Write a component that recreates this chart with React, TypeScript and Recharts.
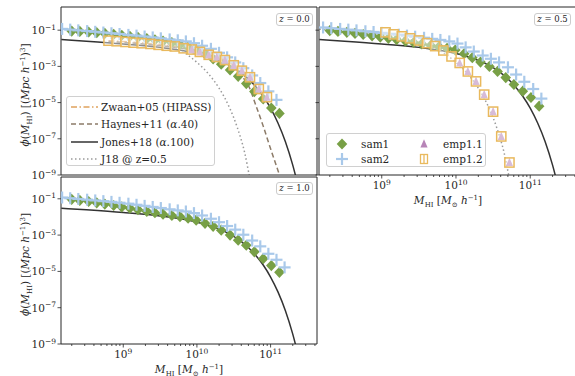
import React from 'react';
import { ComposedChart, Line, Scatter, XAxis, YAxis } from 'recharts';

// all values are log10: mass in M_sun/h, phi in (Mpc/h)^-3 dex^-1

// sam1 (same mass bins in every panel)
const sam1Mass = [8.30, 8.41, 8.53, 8.64, 8.75, 8.87, 8.98, 9.09, 9.20, 9.32, 9.43, 9.54, 9.66, 9.77, 9.88, 9.99, 10.11, 10.22, 10.33, 10.45, 10.56, 10.67, 10.78, 10.90, 11.01, 11.12];
const sam1Z00 = [-1.05, -1.07, -1.10, -1.14, -1.18, -1.23, -1.28, -1.34, -1.40, -1.47, -1.54, -1.61, -1.69, -1.80, -1.93, -2.08, -2.30, -2.58, -2.88, -3.20, -3.55, -3.95, -4.39, -4.80, -5.30, -5.60];
const sam1Z05 = [-1.02, -1.07, -1.12, -1.18, -1.24, -1.31, -1.38, -1.45, -1.52, -1.60, -1.68, -1.76, -1.84, -1.92, -2.00, -2.10, -2.30, -2.52, -2.76, -3.00, -3.28, -3.62, -4.00, -4.37, -4.72, -5.20];
const sam1Z10 = [-1.03, -1.09, -1.15, -1.22, -1.29, -1.37, -1.45, -1.52, -1.60, -1.69, -1.77, -1.85, -1.92, -1.98, -2.07, -2.18, -2.35, -2.52, -2.73, -3.00, -3.28, -3.56, -3.92, -4.30, -4.68, -5.05];

// sam2
const sam2MassZ00 = [8.17, 8.28, 8.39, 8.51, 8.62, 8.73, 8.84, 8.95, 9.07, 9.18, 9.29, 9.40, 9.51, 9.63, 9.74, 9.85, 9.96, 10.07, 10.19, 10.30, 10.41, 10.52, 10.63, 10.75, 10.86, 10.97, 11.08];
const sam2Z00 = [-0.93, -0.97, -1.01, -1.05, -1.09, -1.13, -1.17, -1.21, -1.26, -1.30, -1.35, -1.40, -1.45, -1.51, -1.56, -1.62, -1.72, -1.86, -2.03, -2.25, -2.50, -2.78, -3.10, -3.50, -3.92, -4.38, -4.85];
const sam2MassZ05 = [8.21, 8.32, 8.44, 8.55, 8.66, 8.78, 8.89, 9.00, 9.11, 9.23, 9.34, 9.45, 9.57, 9.68, 9.79, 9.91, 10.02, 10.13, 10.24, 10.36, 10.47, 10.58, 10.70, 10.81, 10.92, 11.04, 11.15];
const sam2Z05 = [-0.85, -0.89, -0.93, -0.97, -1.01, -1.06, -1.10, -1.15, -1.20, -1.25, -1.30, -1.36, -1.42, -1.48, -1.54, -1.62, -1.74, -1.95, -2.18, -2.40, -2.58, -2.78, -3.05, -3.45, -3.85, -4.25, -4.78];
const sam2MassZ10 = [8.17, 8.28, 8.39, 8.51, 8.62, 8.73, 8.84, 8.95, 9.07, 9.18, 9.29, 9.40, 9.51, 9.63, 9.74, 9.85, 9.96, 10.07, 10.19, 10.30, 10.41, 10.52, 10.63, 10.75, 10.86, 10.97, 11.08, 11.19];
const sam2Z10 = [-0.93, -0.97, -1.01, -1.05, -1.09, -1.13, -1.17, -1.22, -1.27, -1.33, -1.39, -1.45, -1.51, -1.58, -1.64, -1.70, -1.79, -1.92, -2.10, -2.29, -2.50, -2.70, -2.98, -3.30, -3.62, -4.03, -4.36, -4.78];

// emp1.2 (squares) and emp1.1 (triangles)
const empMassZ00 = [8.80, 8.91, 9.03, 9.14, 9.25, 9.37, 9.48, 9.59, 9.70, 9.82, 9.93, 10.04, 10.16, 10.27, 10.38, 10.50, 10.61, 10.72, 10.84, 10.95];
const emp12Z00 = [-1.58, -1.61, -1.65, -1.69, -1.72, -1.76, -1.81, -1.86, -1.90, -2.00, -2.07, -2.20, -2.36, -2.48, -2.65, -2.94, -3.24, -3.60, -4.25, -4.70];
const emp11MassZ00 = [9.93, 10.04, 10.16, 10.27, 10.38, 10.50, 10.61, 10.72, 10.84, 10.95];
const emp11Z00 = [-2.07, -2.20, -2.36, -2.48, -2.65, -2.94, -3.24, -3.60, -4.25, -4.70];
const empMassZ05 = [9.05, 9.16, 9.27, 9.38, 9.50, 9.61, 9.72, 9.83, 9.94, 10.05, 10.16, 10.27, 10.38, 10.50, 10.61, 10.72];
const emp12Z05 = [-1.12, -1.23, -1.34, -1.45, -1.57, -1.72, -1.88, -2.12, -2.45, -2.81, -3.28, -3.83, -4.56, -5.50, -6.87, -8.31];
const emp11MassZ05 = [10.05, 10.16, 10.27, 10.38, 10.50, 10.61, 10.72];
const emp11Z05 = [-2.81, -3.28, -3.83, -4.56, -5.50, -6.87, -8.31];

// observed mass functions
const jonesMass = [8.16, 8.5, 9.0, 9.5, 9.8, 10.0, 10.2, 10.4, 10.6, 10.8, 10.9, 11.0, 11.1, 11.2, 11.3, 11.4];
const jonesPhi = [-1.52, -1.61, -1.76, -1.95, -2.12, -2.29, -2.52, -2.85, -3.35, -4.12, -4.65, -5.31, -6.13, -7.15, -8.44, -10.05];
const j18Mass = [8.16, 8.5, 9.0, 9.3, 9.5, 9.7, 9.85, 10.0, 10.15, 10.3, 10.45, 10.55, 10.65, 10.72, 10.78];
const j18Phi = [-0.94, -1.04, -1.25, -1.45, -1.65, -1.95, -2.30, -2.78, -3.38, -4.20, -5.35, -6.40, -7.80, -9.2, -10.2];
const haynesMass = [8.8, 9.2, 9.6, 9.9, 10.1, 10.3, 10.5, 10.6, 10.7, 10.8, 10.9, 11.0, 11.1, 11.2];
const haynesPhi = [-1.62, -1.74, -1.90, -2.08, -2.28, -2.58, -3.08, -3.50, -4.06, -5.15, -6.30, -7.55, -8.75, -10.0];
const zwaanMass = [8.8, 9.2, 9.6, 9.9, 10.1, 10.3, 10.5, 10.7, 10.84];
const zwaanPhi = [-1.58, -1.69, -1.84, -2.03, -2.25, -2.50, -2.94, -3.55, -4.25];

const yTicks = [-9, -7, -5, -3, -1];

const FONT = '"DejaVu Serif", serif';
const INK = '#262626';
const C = {
  sam1: '#78a046',
  sam2: '#a9c9ea',
  emp11: '#b784b7',
  emp12: '#e9b95d',
  jones: '#333333',
  haynes: '#8c7b68',
  zwaan: '#e0a35e',
  j18: '#9a9a9a',
};

const X_DOMAIN: [number, number] = [8.155, 11.63];
const H = 376;

const xTicks: number[] = [];
for (let n = 8; n <= 11; n++) {
  for (let k = 1; k <= 9; k++) {
    const t = n + Math.log10(k);
    if (t > X_DOMAIN[0] && t < X_DOMAIN[1]) xTicks.push(Number(t.toFixed(4)));
  }
}

const pts = (xs: number[], ys: number[]) => xs.map((x, i) => ({ x, y: ys[i] }));
const expo = (n: number) => String(n).replace('-', '\u2212');

// markers
const diamond = (cx: number, cy: number) => (
  <polygon points={`${cx},${cy - 5.6} ${cx + 5.3},${cy} ${cx},${cy + 5.6} ${cx - 5.3},${cy}`} fill={C.sam1} />
);
const plus = (cx: number, cy: number) => (
  <g stroke={C.sam2} strokeWidth={2.2}>
    <line x1={cx - 6} x2={cx + 6} y1={cy} y2={cy} />
    <line x1={cx} x2={cx} y1={cy - 6} y2={cy + 6} />
  </g>
);
const triangle = (cx: number, cy: number) => (
  <polygon points={`${cx},${cy - 4.8} ${cx + 3.6},${cy + 3.6} ${cx - 3.6},${cy + 3.6}`} fill={C.emp11} />
);
const square = (cx: number, cy: number) => (
  <rect x={cx - 4.6} y={cy - 4.6} width={9.2} height={9.2} fill="rgba(255,255,255,0.45)" stroke={C.emp12} strokeWidth={1.5} />
);

const lineEl = (key: string, xs: number[], ys: number[], stroke: string, dash?: string) => (
  <Line key={key} data={pts(xs, ys)} dataKey="y" type="monotone" stroke={stroke} strokeWidth={1.5}
    strokeDasharray={dash} dot={false} activeDot={false} isAnimationActive={false} />
);
const scatterEl = (key: string, xs: number[], ys: number[], draw: (cx: number, cy: number) => React.ReactElement) => (
  <Scatter key={key} data={pts(xs, ys)} dataKey="y" isAnimationActive={false}
    shape={(p: any) => (p.cx == null ? <g /> : draw(p.cx, p.cy))} />
);

function XTick(props: any) {
  const { x, y, payload, showLabel } = props;
  const v = payload.value;
  const major = Math.abs(v - Math.round(v)) < 1e-3;
  return (
    <g>
      <line x1={x} x2={x} y1={y} y2={y + (major ? 3.5 : 2)} stroke={INK} strokeWidth={0.8} />
      {major && showLabel && (
        <text x={x} y={y + 14} textAnchor="middle" fontFamily={FONT} fontSize={10.5} fill={INK}>
          10<tspan dy={-4.5} fontSize={7.5}>{expo(Math.round(v))}</tspan>
        </text>
      )}
    </g>
  );
}

function YTick(props: any) {
  const { x, y, payload, showLabel } = props;
  return (
    <g>
      <line x1={x - 3.5} x2={x} y1={y} y2={y} stroke={INK} strokeWidth={0.8} />
      {showLabel && (
        <text x={x - 5} y={y + 4} textAnchor="end" fontFamily={FONT} fontSize={10.5} fill={INK}>
          10<tspan dy={-4.5} fontSize={7.5}>{expo(payload.value)}</tspan>
        </text>
      )}
    </g>
  );
}

function YTitle(props: any) {
  const vb = props.viewBox || {};
  const cx = vb.x + vb.width - 32;
  const cy = vb.y + vb.height / 2 + 4;
  return (
    <text x={cx} y={cy} transform={`rotate(-90 ${cx} ${cy})`} textAnchor="middle" fontFamily={FONT} fontSize={10.5} fill={INK}>
      <tspan fontStyle="italic">ϕ</tspan>(<tspan fontStyle="italic">M</tspan>
      <tspan dy={2.5} fontSize={7}>HI</tspan>
      <tspan dy={-2.5}>) [(</tspan>
      <tspan fontStyle="italic">Mpc h</tspan>
      <tspan dy={-4} fontSize={7}>−1</tspan>
      <tspan dy={4}>)</tspan>
      <tspan dy={-4} fontSize={7}>3</tspan>
      <tspan dy={4}>]</tspan>
    </text>
  );
}

function XTitle(props: any) {
  const vb = props.viewBox || {};
  const cx = vb.x + vb.width / 2;
  const cy = vb.y + 29;
  return (
    <text x={cx} y={cy} textAnchor="middle" fontFamily={FONT} fontSize={10.5} fill={INK}>
      <tspan fontStyle="italic">M</tspan>
      <tspan dy={2.5} fontSize={7}>HI</tspan>
      <tspan dy={-2.5}> [</tspan>
      <tspan fontStyle="italic">M</tspan>
      <tspan dy={2.5} fontSize={7}>⊙</tspan>
      <tspan dy={-2.5} fontStyle="italic"> h</tspan>
      <tspan dy={-4} fontSize={7}>−1</tspan>
      <tspan dy={4}>]</tspan>
    </text>
  );
}

interface PanelProps {
  left: number;
  top: number;
  width: number;
  height: number;
  chartWidth: number;
  yDomain: [number, number];
  xTickLabels: boolean | null;
  yTickLabels: boolean;
  yTitle: boolean;
  children: React.ReactNode;
}

// every axis takes 1px so recharts still draws it; margins are reduced by that pixel
function Panel({ left, top, width, height, chartWidth, yDomain, xTickLabels, yTickLabels, yTitle, children }: PanelProps) {
  return (
    <div style={{ position: 'absolute', left: 0, top: 0 }}>
      <ComposedChart width={chartWidth} height={H}
        margin={{ left: left - 1, top: top - 1, right: chartWidth - left - width - 1, bottom: H - top - height - 1 }}>
        <XAxis dataKey="x" type="number" domain={X_DOMAIN} allowDataOverflow ticks={xTicks} interval={0}
          height={1} tickSize={0} tickMargin={0} tickLine={false} axisLine={{ stroke: INK }}
          tick={xTickLabels === null ? false : (p: any) => <XTick {...p} showLabel={xTickLabels} />}
          label={xTickLabels ? (p: any) => <XTitle {...p} /> : undefined} />
        <XAxis xAxisId="top" orientation="top" type="number" domain={X_DOMAIN} allowDataOverflow
          height={1} tick={false} tickLine={false} axisLine={{ stroke: INK }} />
        <YAxis type="number" domain={yDomain} allowDataOverflow ticks={yTicks} interval={0}
          width={1} tickSize={0} tickMargin={0} tickLine={false} axisLine={{ stroke: INK }}
          tick={(p: any) => <YTick {...p} showLabel={yTickLabels} />}
          label={yTitle ? (p: any) => <YTitle {...p} /> : undefined} />
        <YAxis yAxisId="right" orientation="right" type="number" domain={yDomain} allowDataOverflow
          width={1} tick={false} tickLine={false} axisLine={{ stroke: INK }} />
        {children}
      </ComposedChart>
    </div>
  );
}

function ZBox({ left, top, z }: { left: number; top: number; z: string }) {
  return (
    <div style={{
      position: 'absolute', left, top, width: 37, height: 13, boxSizing: 'border-box',
      border: '1px solid #cccccc', borderRadius: 3, background: '#fff',
      fontFamily: FONT, fontSize: 8.5, lineHeight: '11px', textAlign: 'center', color: INK,
    }}>
      <i>z</i> = {z}
    </div>
  );
}

const lineSample = (stroke: string, dash?: string) => (
  <svg width={34} height={14} style={{ display: 'block' }}>
    <line x1={4} x2={31} y1={7} y2={7} stroke={stroke} strokeWidth={1.5} strokeDasharray={dash} />
  </svg>
);
const markerSample = (draw: (cx: number, cy: number) => React.ReactElement) => (
  <svg width={20} height={14} style={{ display: 'block', overflow: 'visible' }}>{draw(10, 7)}</svg>
);

const legendBox: React.CSSProperties = {
  position: 'absolute', boxSizing: 'border-box', border: '1px solid #d0d0d0', borderRadius: 3,
  background: 'rgba(255,255,255,0.8)', fontFamily: FONT, fontSize: 10.5, color: INK,
};
const rowStyle = (left: number, top: number): React.CSSProperties => ({
  position: 'absolute', left, top, height: 14, display: 'flex', alignItems: 'center', whiteSpace: 'nowrap', lineHeight: '14px',
});

function LegendLines() {
  const rows = [
    { el: lineSample(C.zwaan, '6 2.5 1.5 2.5'), text: <>Zwaan+05 (HIPASS)</> },
    { el: lineSample(C.haynes, '5 3'), text: <>Haynes+11 (<i>α</i>.40)</> },
    { el: lineSample(C.jones), text: <>Jones+18 (<i>α</i>.100)</> },
    { el: lineSample(C.j18, '1.5 2.5'), text: <>J18 @ z=0.5</> },
  ];
  const ys = [10, 27, 45, 62];
  return (
    <div style={{ ...legendBox, left: 66, top: 96, width: 149, height: 70 }}>
      {rows.map((r, i) => (
        <div key={i} style={rowStyle(0, ys[i] - 7)}>{r.el}<span>{r.text}</span></div>
      ))}
    </div>
  );
}

function LegendMarkers() {
  const emp12Sample = (cx: number, cy: number) => (
    <g>
      <rect x={cx - 3.5} y={cy - 4.5} width={7} height={9} fill="none" stroke={C.emp12} strokeWidth={1.3} />
      <line x1={cx} x2={cx} y1={cy - 4.5} y2={cy + 4.5} stroke={C.emp12} strokeWidth={1.3} />
    </g>
  );
  const items = [
    { draw: diamond, text: 'sam1', x: 5, y: 10 },
    { draw: plus, text: 'sam2', x: 5, y: 25 },
    { draw: triangle, text: 'emp1.1', x: 87, y: 10 },
    { draw: emp12Sample, text: 'emp1.2', x: 87, y: 25 },
  ];
  return (
    <div style={{ ...legendBox, left: 326, top: 133, width: 160, height: 34 }}>
      {items.map((it, i) => (
        <div key={i} style={rowStyle(it.x, it.y - 7)}>
          {markerSample(it.draw)}
          <span style={{ marginLeft: 9 }}>{it.text}</span>
        </div>
      ))}
    </div>
  );
}

export default function App() {
  const tl = [
    lineEl('zw', zwaanMass, zwaanPhi, C.zwaan, '6 2.5 1.5 2.5'),
    lineEl('hy', haynesMass, haynesPhi, C.haynes, '5 3'),
    lineEl('jo', jonesMass, jonesPhi, C.jones),
    lineEl('j18', j18Mass, j18Phi, C.j18, '1.5 2.5'),
    scatterEl('s1', sam1Mass, sam1Z00, diamond),
    scatterEl('s2', sam2MassZ00, sam2Z00, plus),
    scatterEl('e11', emp11MassZ00, emp11Z00, triangle),
    scatterEl('e12', empMassZ00, emp12Z00, square),
  ];
  const tr = [
    lineEl('jo', jonesMass, jonesPhi, C.jones),
    lineEl('j18', j18Mass, j18Phi, C.j18, '1.5 2.5'),
    scatterEl('s1', sam1Mass, sam1Z05, diamond),
    scatterEl('s2', sam2MassZ05, sam2Z05, plus),
    scatterEl('e11', emp11MassZ05, emp11Z05, triangle),
    scatterEl('e12', empMassZ05, emp12Z05, square),
  ];
  const bl = [
    lineEl('jo', jonesMass, jonesPhi, C.jones),
    scatterEl('s1', sam1Mass, sam1Z10, diamond),
    scatterEl('s2', sam2MassZ10, sam2Z10, plus),
  ];
  return (
    <div style={{ position: 'absolute', left: 0, top: 0, width: 575, height: 376, overflow: 'hidden', background: '#fff' }}>
      <Panel left={61} top={7} width={256} height={168} chartWidth={575} yDomain={[-9, 0.28]}
        xTickLabels={null} yTickLabels yTitle>{tl}</Panel>
      <Panel left={319} top={7} width={258} height={168} chartWidth={580} yDomain={[-9, 0.28]}
        xTickLabels yTickLabels={false} yTitle={false}>{tr}</Panel>
      <Panel left={61} top={177} width={256} height={167} chartWidth={575} yDomain={[-9, 0.2]}
        xTickLabels yTickLabels yTitle>{bl}</Panel>
      <ZBox left={276} top={13} z="0.0" />
      <ZBox left={534} top={13} z="0.5" />
      <ZBox left={276} top={182} z="1.0" />
      <LegendLines />
      <LegendMarkers />
    </div>
  );
}
